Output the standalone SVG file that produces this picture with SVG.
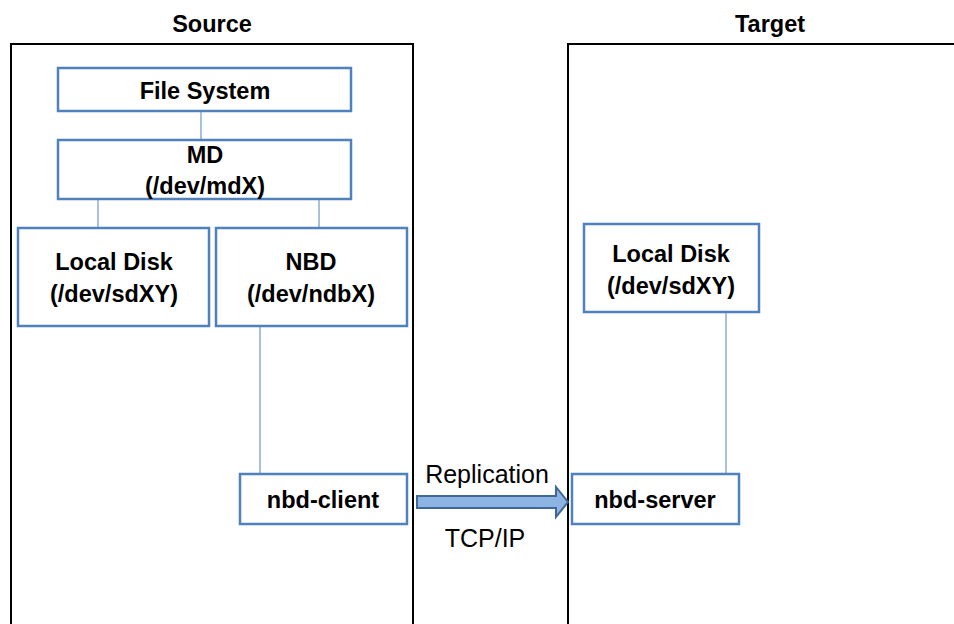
<svg xmlns="http://www.w3.org/2000/svg" width="954" height="624" viewBox="0 0 954 624">
<style>
.frame{fill:none;stroke:#000;stroke-width:2}
.node{fill:#fff;stroke:#4f81bd;stroke-width:2.5}
.line{stroke:#4f81bd;stroke-width:1;fill:none}
text{font-family:"Liberation Sans",Arial,sans-serif;font-size:25px;text-anchor:middle;fill:#000}
.b{font-weight:bold;font-size:23.5px}
</style>
<rect width="954" height="624" fill="#fff"/>
<g id="source">
<rect class="frame" x="11" y="44" width="402" height="600"/>
<text class="b" x="212" y="32">Source</text>
</g>
<g id="target">
<rect class="frame" x="568" y="44" width="400" height="600"/>
<text class="b" x="770" y="32">Target</text>
</g>
<g id="connectors">
<line class="line" x1="201" y1="111" x2="201" y2="140"/>
<line class="line" x1="98" y1="199" x2="98" y2="228"/>
<line class="line" x1="319" y1="199" x2="319" y2="228"/>
<line class="line" x1="260" y1="326" x2="260" y2="474"/>
<line class="line" x1="726" y1="312" x2="726" y2="474"/>
<path d="M417,496 H556 V487 L568,502 L556,517 V508 H417 Z" fill="#8db3e2" stroke="#3f6797" stroke-width="2" stroke-linejoin="miter"/>
<text x="487" y="483">Replication</text>
<text x="485" y="547">TCP/IP</text>
</g>
<g id="filesystem">
<rect class="node" x="58" y="68" width="293" height="43"/>
<text class="b" x="205" y="99">File System</text>
</g>
<g id="md">
<rect class="node" x="58" y="140" width="293" height="59"/>
<text class="b" x="205" y="163">MD</text>
<text class="b" x="205" y="194">(/dev/mdX)</text>
</g>
<g id="localdisk-src">
<rect class="node" x="18" y="228" width="191" height="98"/>
<text class="b" x="114" y="270">Local Disk</text>
<text class="b" x="114" y="302">(/dev/sdXY)</text>
</g>
<g id="nbd">
<rect class="node" x="216" y="228" width="191" height="98"/>
<text class="b" x="311" y="270">NBD</text>
<text class="b" x="311" y="302">(/dev/ndbX)</text>
</g>
<g id="nbd-client">
<rect class="node" x="240" y="474" width="167" height="50"/>
<text class="b" x="323" y="508">nbd-client</text>
</g>
<g id="localdisk-tgt">
<rect class="node" x="584" y="224" width="175" height="88"/>
<text class="b" x="671" y="262">Local Disk</text>
<text class="b" x="671" y="294">(/dev/sdXY)</text>
</g>
<g id="nbd-server">
<rect class="node" x="572" y="474" width="167" height="50"/>
<text class="b" x="655" y="508">nbd-server</text>
</g>
</svg>
